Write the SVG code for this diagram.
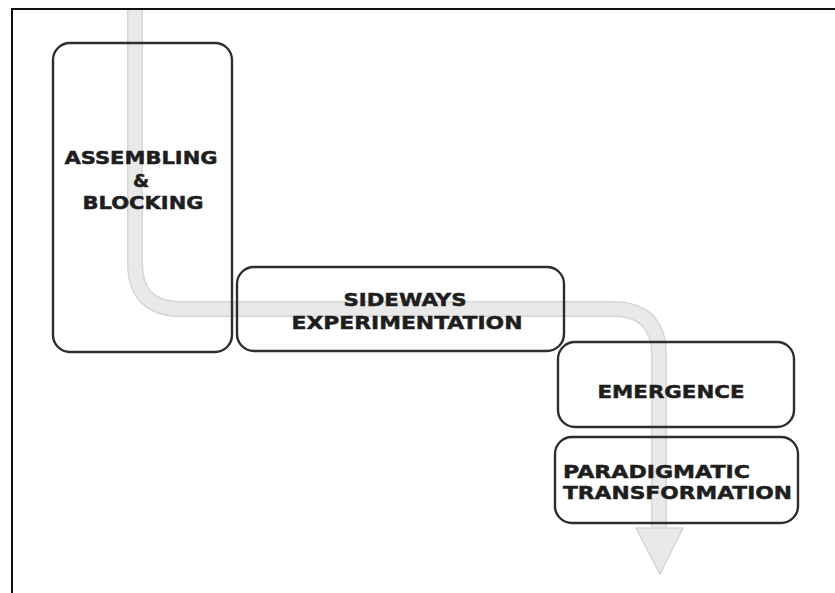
<svg xmlns="http://www.w3.org/2000/svg" width="835" height="593" viewBox="0 0 835 593">
<style>
.box{fill:none;stroke:#2e2e2e;stroke-width:2.4}
.lbl{font-family:"DejaVu Sans","Liberation Sans",sans-serif;font-weight:bold;font-size:18.5px;fill:#1e1e1e;stroke:#1e1e1e;stroke-width:0.5}
.pipe-o{fill:none;stroke:#d6d6d6;stroke-width:16}
.pipe-i{fill:none;stroke:#e9e9e9;stroke-width:13}
</style>
<rect width="835" height="593" fill="#fff"/>
<path d="M12,593 V9 H835" fill="none" stroke="#111" stroke-width="2"/>
<g id="connectors">
<path class="pipe-o" d="M135,10 V263 Q135,309 181,309 H613 Q659,309 659,355 V530"/>
<path class="pipe-i" d="M135,10 V263 Q135,309 181,309 H613 Q659,309 659,355 V530"/>
<polygon points="636,528 683,528 660,574" fill="#e9e9e9" stroke="#d6d6d6" stroke-width="1.5"/>
</g>
<g id="node-assembling">
<rect class="box" x="53" y="43" width="179" height="309" rx="17"/>
<text class="lbl" x="141" y="164" text-anchor="middle" textLength="153" lengthAdjust="spacingAndGlyphs">ASSEMBLING</text>
<text class="lbl" x="141" y="187" text-anchor="middle">&amp;</text>
<text class="lbl" x="143" y="209" text-anchor="middle" textLength="121" lengthAdjust="spacingAndGlyphs">BLOCKING</text>
</g>
<g id="node-sideways">
<rect class="box" x="237" y="267" width="327" height="84" rx="17"/>
<text class="lbl" x="405" y="306" text-anchor="middle" textLength="123" lengthAdjust="spacingAndGlyphs">SIDEWAYS</text>
<text class="lbl" x="407" y="329" text-anchor="middle" textLength="231" lengthAdjust="spacingAndGlyphs">EXPERIMENTATION</text>
</g>
<g id="node-emergence">
<rect class="box" x="558" y="342" width="236" height="85" rx="17"/>
<text class="lbl" x="671" y="398" text-anchor="middle" textLength="147" lengthAdjust="spacingAndGlyphs">EMERGENCE</text>
</g>
<g id="node-paradigmatic">
<rect class="box" x="555" y="437" width="243" height="86" rx="17"/>
<text class="lbl" x="563" y="478" textLength="187" lengthAdjust="spacingAndGlyphs">PARADIGMATIC</text>
<text class="lbl" x="563" y="499" textLength="229" lengthAdjust="spacingAndGlyphs">TRANSFORMATION</text>
</g>
</svg>
